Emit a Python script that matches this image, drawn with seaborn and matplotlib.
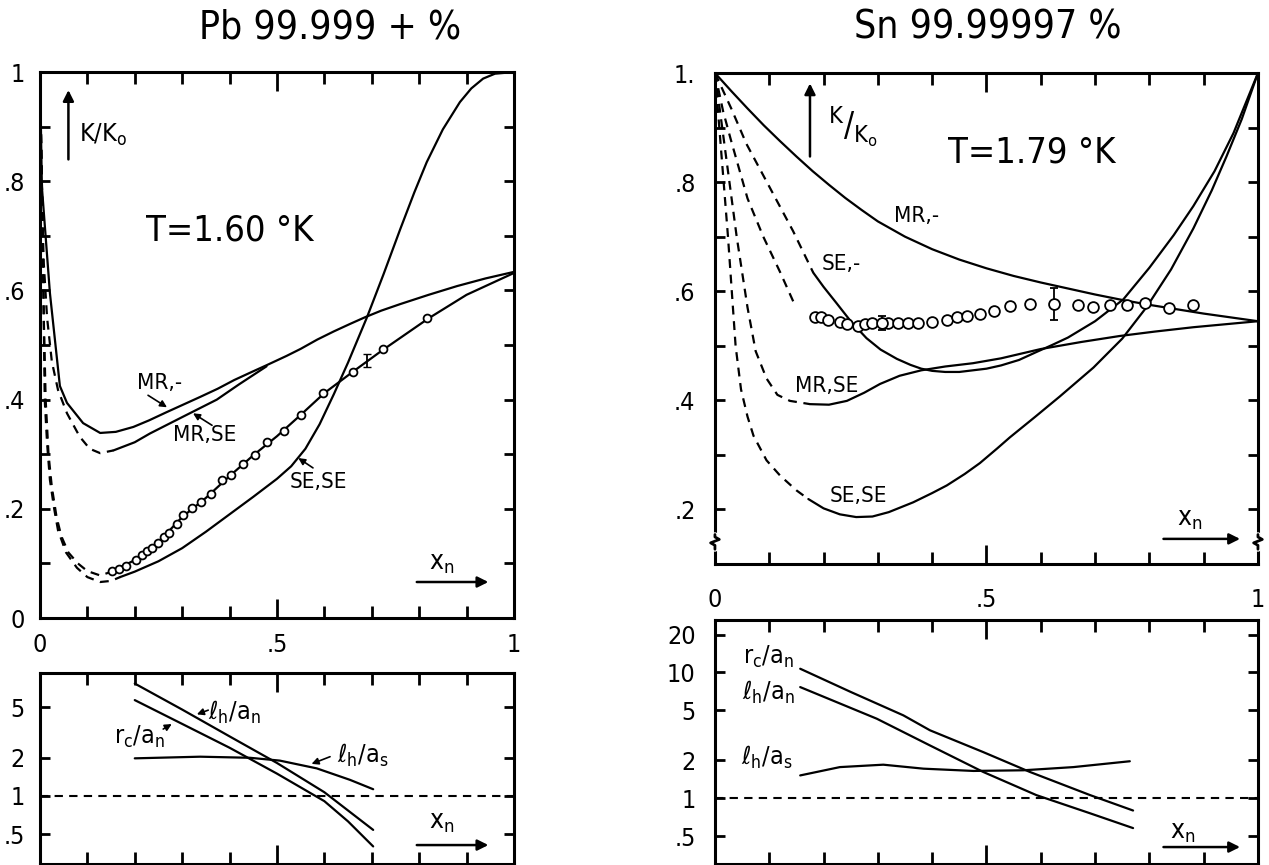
import numpy as np
import matplotlib
matplotlib.use("Agg")
import matplotlib.pyplot as plt
from matplotlib.ticker import NullLocator
import seaborn as sns

sns.set_style("ticks")
plt.rcParams["font.family"] = ["DejaVu Sans"]
plt.rcParams["font.stretch"] = "condensed"
plt.rcParams["mathtext.default"] = "regular"
plt.rcParams["axes.linewidth"] = 2.2
for key in ["text.color", "axes.edgecolor", "axes.labelcolor", "xtick.color", "ytick.color"]:
    plt.rcParams[key] = "black"

# ---------------- Pb, K/K0 vs x_n ----------------
pb_mr_x = [0.0, 0.004, 0.021, 0.042, 0.057, 0.091, 0.127, 0.16, 0.197, 0.23, 0.267, 0.30, 0.338, 0.375, 0.41,
           0.445, 0.478, 0.52, 0.55, 0.585, 0.62, 0.655, 0.686, 0.72, 0.76, 0.82, 0.88, 0.94, 1.0]
pb_mr_y = [1.0, 0.79, 0.595, 0.425, 0.394, 0.357, 0.339, 0.341, 0.350, 0.362, 0.377, 0.39, 0.405, 0.42, 0.436,
           0.45, 0.463, 0.48, 0.493, 0.51, 0.525, 0.539, 0.551, 0.563, 0.575, 0.592, 0.608, 0.622, 0.634]

pb_mrse_dash_x = [0.0, 0.003, 0.008, 0.015, 0.025, 0.038, 0.057, 0.084, 0.105, 0.127, 0.155]
pb_mrse_dash_y = [1.0, 0.80, 0.65, 0.55, 0.47, 0.418, 0.375, 0.332, 0.31, 0.302, 0.307]
pb_mrse_x = [0.155, 0.2, 0.232, 0.30, 0.373, 0.42, 0.478]
pb_mrse_y = [0.307, 0.322, 0.338, 0.368, 0.40, 0.428, 0.461]

pb_sese_dash_x = [0.0, 0.005, 0.008, 0.01, 0.015, 0.021, 0.03, 0.038, 0.055, 0.078, 0.10, 0.127, 0.15, 0.169]
pb_sese_dash_y = [1.0, 0.75, 0.55, 0.40, 0.32, 0.253, 0.20, 0.161, 0.12, 0.092, 0.075, 0.066, 0.068, 0.075]
pb_sese_x = [0.169, 0.2, 0.25, 0.3, 0.35, 0.4, 0.45, 0.5, 0.53, 0.56, 0.59, 0.62, 0.65, 0.69, 0.725,
             0.76, 0.79, 0.816, 0.85, 0.886, 0.91, 0.935, 0.96, 1.0]
pb_sese_y = [0.075, 0.085, 0.104, 0.128, 0.158, 0.19, 0.222, 0.255, 0.278, 0.31, 0.355, 0.41, 0.468, 0.551, 0.63,
             0.712, 0.78, 0.835, 0.895, 0.945, 0.97, 0.988, 0.997, 1.0]

pb_fit_dash_x = [0.0, 0.005, 0.008, 0.012, 0.018, 0.025, 0.035, 0.045, 0.06, 0.08, 0.10, 0.127, 0.148]
pb_fit_dash_y = [1.0, 0.75, 0.55, 0.40, 0.30, 0.24, 0.185, 0.15, 0.12, 0.10, 0.086, 0.078, 0.084]
pb_fit_x = [0.148, 0.2, 0.25, 0.3, 0.35, 0.4, 0.45, 0.5, 0.55, 0.6, 0.66, 0.72, 0.82, 0.9, 1.0]
pb_fit_y = [0.084, 0.106, 0.139, 0.185, 0.22, 0.26, 0.298, 0.333, 0.372, 0.412, 0.451, 0.489, 0.549, 0.592, 0.632]

pb_data_x = [0.153, 0.167, 0.181, 0.202, 0.216, 0.225, 0.236, 0.248, 0.262, 0.272, 0.290, 0.301, 0.321,
             0.340, 0.360, 0.385, 0.404, 0.428, 0.453, 0.478, 0.515, 0.551, 0.598, 0.661, 0.724, 0.816]
pb_data_y = [0.086, 0.090, 0.095, 0.107, 0.115, 0.123, 0.129, 0.137, 0.148, 0.155, 0.172, 0.189, 0.201,
             0.213, 0.228, 0.253, 0.262, 0.283, 0.299, 0.322, 0.342, 0.372, 0.412, 0.451, 0.492, 0.549]
pb_err_x = [0.691]
pb_err_y = [0.472]
pb_err = [0.012]

# ---------------- Pb, lengths (log) ----------------
pb_lhn_x = [0.2, 0.3, 0.4, 0.5, 0.6, 0.703]
pb_lhn_y = [7.7, 4.8, 2.95, 1.82, 1.07, 0.54]
pb_rc_x = [0.2, 0.3, 0.4, 0.5, 0.6, 0.65, 0.703]
pb_rc_y = [5.7, 3.7, 2.4, 1.5, 0.91, 0.63, 0.40]
pb_lhs_x = [0.2, 0.338, 0.443, 0.506, 0.584, 0.654, 0.703]
pb_lhs_y = [1.98, 2.04, 2.0, 1.9, 1.65, 1.34, 1.13]

# ---------------- Sn, K/K0 vs x_n ----------------
sn_mr_x = [0.0, 0.03, 0.06, 0.09, 0.12, 0.15, 0.18, 0.21, 0.24, 0.27, 0.30, 0.35, 0.40, 0.45,
           0.50, 0.55, 0.60, 0.65, 0.70, 0.75, 0.80, 0.85, 0.90, 0.95, 1.0]
sn_mr_y = [1.0, 0.967, 0.935, 0.904, 0.875, 0.847, 0.82, 0.795, 0.771, 0.749, 0.728, 0.70, 0.677, 0.658,
           0.642, 0.628, 0.616, 0.605, 0.594, 0.584, 0.575, 0.567, 0.559, 0.552, 0.545]

sn_se_dash_x = [0.0, 0.03, 0.058, 0.101, 0.144, 0.181]
sn_se_dash_y = [1.0, 0.935, 0.87, 0.79, 0.71, 0.634]
sn_se_x = [0.181, 0.2, 0.224, 0.25, 0.279, 0.305, 0.335, 0.36, 0.38, 0.40, 0.424, 0.45, 0.475, 0.5, 0.527,
           0.56, 0.593, 0.62, 0.65, 0.7, 0.752, 0.8, 0.845, 0.881, 0.92, 0.955, 1.0]
sn_se_y = [0.634, 0.608, 0.578, 0.545, 0.514, 0.493, 0.476, 0.465, 0.458, 0.454, 0.452, 0.452, 0.455, 0.458, 0.464,
           0.474, 0.489, 0.501, 0.515, 0.545, 0.585, 0.643, 0.703, 0.756, 0.82, 0.89, 1.0]

sn_mrse_dash_x = [0.0, 0.02, 0.04, 0.06, 0.075, 0.095, 0.115, 0.138, 0.175]
sn_mrse_dash_y = [1.0, 0.85, 0.70, 0.57, 0.49, 0.44, 0.41, 0.399, 0.393]
sn_mrse_x = [0.175, 0.21, 0.243, 0.275, 0.304, 0.34, 0.38, 0.424, 0.475, 0.527, 0.60, 0.675, 0.746, 0.81, 0.881, 1.0]
sn_mrse_y = [0.393, 0.392, 0.399, 0.414, 0.43, 0.445, 0.455, 0.462, 0.468, 0.477, 0.494, 0.507, 0.518, 0.526, 0.534, 0.545]

sn_sese_dash_x = [0.0, 0.008, 0.016, 0.024, 0.031, 0.038, 0.048, 0.06, 0.071, 0.095, 0.12, 0.15, 0.172]
sn_sese_dash_y = [1.0, 0.9, 0.8, 0.7, 0.6, 0.5, 0.42, 0.37, 0.335, 0.29, 0.262, 0.235, 0.219]
sn_sese_x = [0.172, 0.2, 0.23, 0.26, 0.29, 0.32, 0.365, 0.4, 0.427, 0.46, 0.488, 0.52, 0.543, 0.59, 0.635,
             0.697, 0.75, 0.795, 0.84, 0.881, 0.915, 0.942, 0.97, 1.0]
sn_sese_y = [0.219, 0.202, 0.191, 0.186, 0.187, 0.195, 0.213, 0.23, 0.244, 0.265, 0.285, 0.312, 0.332, 0.37, 0.407,
             0.46, 0.513, 0.571, 0.64, 0.715, 0.785, 0.847, 0.915, 1.0]

sn_fit_dash_x = [0.0, 0.015, 0.03, 0.06, 0.089, 0.12, 0.147]
sn_fit_dash_y = [1.0, 0.93, 0.875, 0.77, 0.70, 0.635, 0.575]

sn_data_x = [0.184, 0.196, 0.209, 0.230, 0.243, 0.264, 0.276, 0.289, 0.319, 0.338, 0.356, 0.374, 0.399, 0.427,
             0.445, 0.464, 0.488, 0.513, 0.543, 0.580, 0.669, 0.697, 0.727, 0.758, 0.792, 0.836, 0.881]
sn_data_y = [0.553, 0.552, 0.548, 0.544, 0.539, 0.537, 0.539, 0.541, 0.542, 0.542, 0.542, 0.542, 0.544, 0.548,
             0.552, 0.555, 0.558, 0.564, 0.573, 0.577, 0.574, 0.571, 0.574, 0.574, 0.578, 0.570, 0.574]
sn_err_x = [0.307, 0.625]
sn_err_y = [0.542, 0.576]
sn_err = [0.013, 0.029]

# ---------------- Sn, lengths (log) ----------------
sn_rc_x = [0.157, 0.25, 0.347, 0.396, 0.494, 0.58, 0.691, 0.77]
sn_rc_y = [10.7, 7.0, 4.56, 3.47, 2.33, 1.62, 1.06, 0.80]
sn_lhn_x = [0.157, 0.298, 0.396, 0.494, 0.592, 0.691, 0.77]
sn_lhn_y = [7.65, 4.29, 2.63, 1.62, 1.06, 0.76, 0.58]
sn_lhs_x = [0.157, 0.23, 0.31, 0.384, 0.476, 0.568, 0.66, 0.764]
sn_lhs_y = [1.52, 1.77, 1.85, 1.72, 1.65, 1.67, 1.77, 1.97]

DASH = (0, (4, 3))
LW = 1.6


def curve(ax, x, y, dashed=False):
    sns.lineplot(x=x, y=y, ax=ax, color="black", lw=LW, sort=False, estimator=None,
                 linestyle=DASH if dashed else "-")


def circles(ax, x, y, size):
    sns.scatterplot(x=x, y=y, ax=ax, marker="o", s=size, color="white",
                    edgecolor="black", linewidth=1.3, zorder=4)


def arrow(ax, start, end, lw=1.2, scale=10):
    ax.annotate("", xy=end, xytext=start,
                arrowprops=dict(arrowstyle="-|>", color="black", lw=lw, mutation_scale=scale,
                                shrinkA=0, shrinkB=0))


def x_ticks(ax, labels=True, pad=11):
    ax.set_xlim(0, 1)
    ax.set_xticks([0, 0.5, 1])
    ax.set_xticklabels(["0", ".5", "1"])
    ax.set_xticks(np.arange(1, 10) / 10, minor=True)
    ax.tick_params(axis="x", which="both", direction="in", top=True, bottom=True, width=2,
                   labelbottom=labels, labelsize=18, pad=pad)
    ax.tick_params(axis="x", which="major", length=14)
    ax.tick_params(axis="x", which="minor", length=8.5)


fig = plt.figure(figsize=(12.69, 8.65), dpi=100)
ax_pb = fig.add_axes([0.0315, 0.2855, 0.3735, 0.6312])
ax_pb2 = fig.add_axes([0.0315, 0.001, 0.3735, 0.2208])
ax_sn = fig.add_axes([0.5634, 0.348, 0.4279, 0.5676])
ax_sn2 = fig.add_axes([0.5634, 0.001, 0.4279, 0.282])

# ---- Pb top ----
ax = ax_pb
curve(ax, pb_mr_x, pb_mr_y)
curve(ax, pb_mrse_dash_x, pb_mrse_dash_y, dashed=True)
curve(ax, pb_mrse_x, pb_mrse_y)
curve(ax, pb_sese_dash_x, pb_sese_dash_y, dashed=True)
curve(ax, pb_sese_x, pb_sese_y)
curve(ax, pb_fit_dash_x, pb_fit_dash_y, dashed=True)
curve(ax, pb_fit_x, pb_fit_y)
circles(ax, pb_data_x, pb_data_y, 32)
ax.errorbar(pb_err_x, pb_err_y, yerr=pb_err, fmt="none", ecolor="black", elinewidth=1.3, capsize=3)
ax.set_ylim(0, 1)
ax.set_yticks([0, 0.2, 0.4, 0.6, 0.8, 1.0])
ax.set_yticklabels(["0", ".2", ".4", ".6", ".8", "1"])
ax.set_yticks([0.1, 0.3, 0.5, 0.7, 0.9], minor=True)
ax.tick_params(axis="y", which="both", direction="in", left=True, right=True, length=7.5,
               width=2, labelsize=18, pad=11)
x_ticks(ax, pad=11)
ax.set_xlabel("")
ax.set_ylabel("")

ax.text(0.253, 0.43, "MR,-", fontsize=16, ha="center", va="center")
arrow(ax, (0.228, 0.408), (0.268, 0.386))
ax.text(0.348, 0.335, "MR,SE", fontsize=16, ha="center", va="center")
arrow(ax, (0.363, 0.353), (0.323, 0.375))
ax.text(0.587, 0.249, "SE,SE", fontsize=16, ha="center", va="center")
arrow(ax, (0.576, 0.275), (0.545, 0.293))
ax.text(0.40, 0.71, "T=1.60 °K", fontsize=26, ha="center", va="center")
arrow(ax, (0.06, 0.84), (0.06, 0.967), lw=1.8, scale=16)
ax.text(0.134, 0.885, "K/K$_o$", fontsize=18, ha="center", va="center")
ax.text(0.848, 0.10, "x$_n$", fontsize=19, ha="center", va="center")
arrow(ax, (0.795, 0.066), (0.946, 0.066), lw=1.8, scale=16)

# ---- Pb bottom ----
ax = ax_pb2
curve(ax, pb_lhn_x, pb_lhn_y)
curve(ax, pb_rc_x, pb_rc_y)
curve(ax, pb_lhs_x, pb_lhs_y)
ax.axhline(1, color="black", lw=1.5, linestyle=DASH)
ax.set_yscale("log")
ax.set_ylim(0.29, 9.3)
ax.set_yticks([0.5, 1, 2, 5])
ax.set_yticklabels([".5", "1", "2", "5"])
ax.yaxis.set_minor_locator(NullLocator())
ax.tick_params(axis="y", which="both", direction="in", left=True, right=True, length=7.5,
               width=2, labelsize=18, pad=11)
x_ticks(ax, labels=False)
ax.set_xlabel("")
ax.set_ylabel("")
ax.text(0.41, 4.6, r"$\ell_h/a_n$", fontsize=18, ha="center", va="center")
arrow(ax, (0.355, 4.75), (0.331, 4.4))
ax.text(0.21, 2.9, r"$r_c/a_n$", fontsize=18, ha="center", va="center")
arrow(ax, (0.26, 3.37), (0.278, 3.69))
ax.text(0.68, 2.1, r"$\ell_h/a_s$", fontsize=18, ha="center", va="center")
arrow(ax, (0.612, 2.04), (0.573, 1.79))
ax.text(0.848, 0.62, "x$_n$", fontsize=19, ha="center", va="center")
arrow(ax, (0.795, 0.41), (0.946, 0.41), lw=1.8, scale=16)

# ---- Sn top ----
ax = ax_sn
curve(ax, sn_mr_x, sn_mr_y)
curve(ax, sn_se_dash_x, sn_se_dash_y, dashed=True)
curve(ax, sn_se_x, sn_se_y)
curve(ax, sn_mrse_dash_x, sn_mrse_dash_y, dashed=True)
curve(ax, sn_mrse_x, sn_mrse_y)
curve(ax, sn_sese_dash_x, sn_sese_dash_y, dashed=True)
curve(ax, sn_sese_x, sn_sese_y)
curve(ax, sn_fit_dash_x, sn_fit_dash_y, dashed=True)
circles(ax, sn_data_x, sn_data_y, 60)
ax.errorbar(sn_err_x, sn_err_y, yerr=sn_err, fmt="o", ms=7.8, mfc="white", mec="black",
            mew=1.3, ecolor="black", elinewidth=1.3, capsize=3, zorder=5)
ax.set_ylim(0.1, 1.0)
ax.set_yticks([0.2, 0.4, 0.6, 0.8, 1.0])
ax.set_yticklabels([".2", ".4", ".6", ".8", "1."])
ax.set_yticks([0.3, 0.5, 0.7, 0.9], minor=True)
ax.tick_params(axis="y", which="both", direction="in", left=True, right=True, length=7.5,
               width=2, labelsize=18, pad=14)
x_ticks(ax, pad=17)
ax.set_xlabel("")
ax.set_ylabel("")

# axis break marks on both sides
for xs in (0.0, 1.0):
    ax.plot([xs, xs], [0.03, 0.06], transform=ax.transAxes, color="white", lw=4, clip_on=False, zorder=6)
    ax.plot([xs, xs, xs - 0.008, xs + 0.008, xs, xs], [0.03, 0.038, 0.043, 0.05, 0.055, 0.06],
            transform=ax.transAxes, color="black", lw=2, clip_on=False, zorder=7)

ax.text(0.371, 0.737, "MR,-", fontsize=16, ha="center", va="center")
ax.text(0.233, 0.649, "SE,-", fontsize=16, ha="center", va="center")
ax.text(0.206, 0.427, "MR,SE", fontsize=16, ha="center", va="center")
ax.text(0.264, 0.225, "SE,SE", fontsize=16, ha="center", va="center")
ax.text(0.584, 0.854, "T=1.79 °K", fontsize=26, ha="center", va="center")
arrow(ax, (0.175, 0.847), (0.175, 0.981), lw=1.8, scale=16)
ax.text(0.254, 0.902, r"$^K/_{K_o}$", fontsize=24, ha="center", va="center")
ax.text(0.875, 0.183, "x$_n$", fontsize=19, ha="center", va="center")
arrow(ax, (0.826, 0.146), (0.967, 0.146), lw=1.8, scale=16)

# ---- Sn bottom ----
ax = ax_sn2
curve(ax, sn_rc_x, sn_rc_y)
curve(ax, sn_lhn_x, sn_lhn_y)
curve(ax, sn_lhs_x, sn_lhs_y)
ax.axhline(1, color="black", lw=1.5, linestyle=DASH)
ax.set_yscale("log")
ax.set_ylim(0.30, 26)
ax.set_yticks([0.5, 1, 2, 5, 10, 20])
ax.set_yticklabels([".5", "1", "2", "5", "10", "20"])
ax.yaxis.set_minor_locator(NullLocator())
ax.tick_params(axis="y", which="both", direction="in", left=True, right=True, length=7.5,
               width=2, labelsize=18, pad=14)
x_ticks(ax, labels=False)
ax.set_xlabel("")
ax.set_ylabel("")
ax.text(0.098, 13.2, r"$r_c/a_n$", fontsize=18, ha="center", va="center")
ax.text(0.098, 7.0, r"$\ell_h/a_n$", fontsize=18, ha="center", va="center")
ax.text(0.095, 2.13, r"$\ell_h/a_s$", fontsize=18, ha="center", va="center")
ax.text(0.862, 0.54, "x$_n$", fontsize=19, ha="center", va="center")
arrow(ax, (0.826, 0.41), (0.967, 0.41), lw=1.8, scale=16)

# titles
fig.text(0.26, 0.968, "Pb 99.999 + %", fontsize=28, ha="center", va="center")
fig.text(0.778, 0.968, "Sn 99.99997 %", fontsize=28, ha="center", va="center")

fig.savefig("out.png", dpi=100)
